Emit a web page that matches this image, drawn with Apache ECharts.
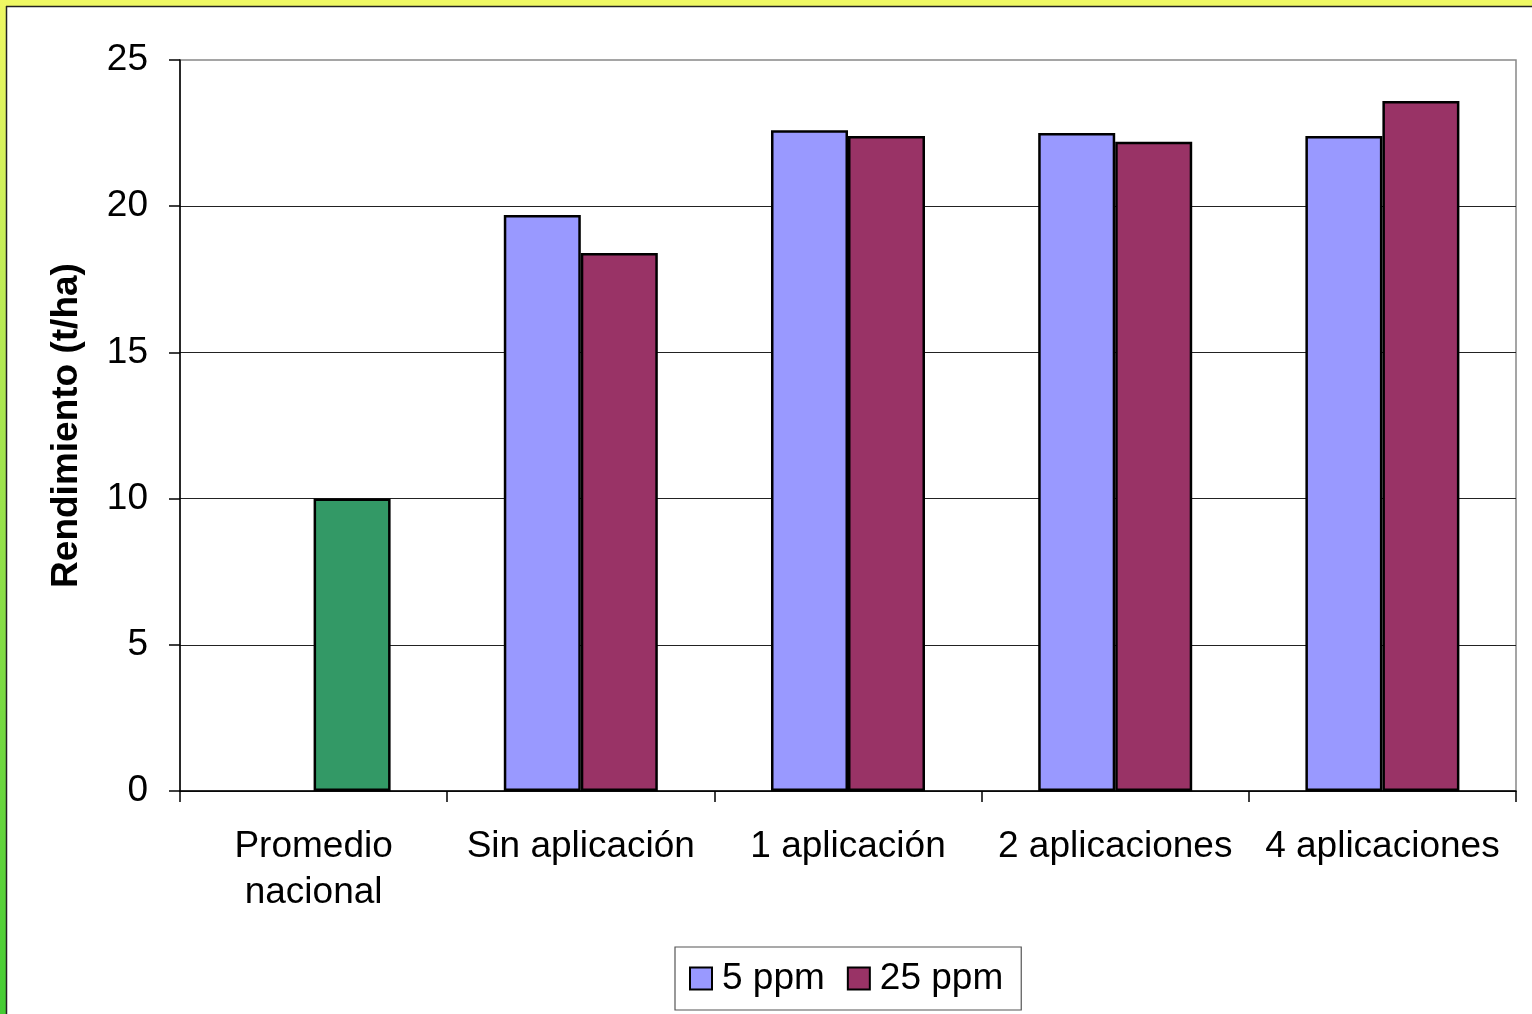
<!DOCTYPE html>
<html>
<head>
<meta charset="utf-8">
<title>Rendimiento (t/ha)</title>
<script src="https://cdn.jsdelivr.net/npm/echarts@6/dist/echarts.min.js"></script>
<style>
  html, body { margin: 0; padding: 0; background: #fff; }
  #chart { width: 1532px; height: 1014px; }
</style>
</head>
<body>
<div id="chart"></div>
<script>
// Categories and yields (t/ha)
const categories = ['Promedio\nnacional', 'Sin aplicación', '1 aplicación', '2 aplicaciones', '4 aplicaciones'];
const ppm5 = ['-', 19.7, 22.6, 22.5, 22.4];
const ppm25 = [10.0, 18.4, 22.4, 22.2, 23.6];
const yTicks = [0, 5, 10, 15, 20, 25];

const FONT = "'Liberation Sans', Arial, sans-serif";
const BLUE = '#9999FF';
const WINE = '#993366';
const GREEN = '#339966';

// The national average is drawn in green in the second slot of its category
const ppm25Data = ppm25.map((v, i) => i === 0 ? { value: v, itemStyle: { color: GREEN } } : v);

const chart = echarts.init(document.getElementById('chart'), null, { renderer: 'canvas' });

chart.setOption({
  backgroundColor: '#ffffff',
  animation: false,
  textStyle: { fontFamily: FONT },
  graphic: [
    // slide frame: yellow top band, yellow-to-green left band, dark inner edge
    { type: 'rect', z: 0, shape: { x: 0, y: 0, width: 1532, height: 6 }, style: { fill: '#EFF863' } },
    { type: 'rect', z: 0, shape: { x: 0, y: 0, width: 6, height: 1014 },
      style: { fill: new echarts.graphic.LinearGradient(0, 0, 0, 1, [
        { offset: 0, color: '#EFF863' },
        { offset: 1, color: '#44CC33' }
      ]) } },
    { type: 'line', z: 1, shape: { x1: 6, y1: 6.5, x2: 1532, y2: 6.5 }, style: { stroke: '#222', lineWidth: 1.5 } },
    { type: 'line', z: 1, shape: { x1: 6.5, y1: 6, x2: 6.5, y2: 1014 }, style: { stroke: '#222', lineWidth: 1.5 } }
  ],
  grid: {
    left: 180, top: 60, width: 1336, height: 731,
    show: true, borderColor: '#888', borderWidth: 1.5, backgroundColor: 'transparent'
  },
  legend: {
    left: 675, top: 947,
    padding: [13, 18, 13, 14],
    itemWidth: 22, itemHeight: 22, itemGap: 22,
    icon: 'rect',
    borderColor: '#555', borderWidth: 1.2,
    textStyle: { fontFamily: FONT, fontSize: 37, color: '#000', padding: [0, 0, 0, 5] },
    data: ['5 ppm', '25 ppm']
  },
  xAxis: {
    type: 'category',
    data: categories,
    axisLine: { show: true, lineStyle: { color: '#000', width: 1.5 } },
    axisTick: { show: true, length: 11, interval: 0, lineStyle: { color: '#000', width: 1.5 } },
    axisLabel: { interval: 0, fontFamily: FONT, fontSize: 37, color: '#000', lineHeight: 46, margin: 33 },
    splitLine: { show: false }
  },
  yAxis: {
    type: 'value',
    min: yTicks[0], max: yTicks[yTicks.length - 1], interval: 5,
    name: 'Rendimiento (t/ha)',
    nameLocation: 'middle',
    nameRotate: 90,
    nameGap: 95,
    nameTextStyle: { fontFamily: FONT, fontSize: 37, fontWeight: 'bold', color: '#000' },
    axisLine: { show: true, lineStyle: { color: '#000', width: 1.5 } },
    axisTick: { show: true, length: 11, lineStyle: { color: '#000', width: 1.5 } },
    axisLabel: { fontFamily: FONT, fontSize: 37, color: '#000', margin: 32 },
    splitLine: { show: true, showMaxLine: false, lineStyle: { color: '#222', width: 1 } }
  },
  series: [
    {
      name: '5 ppm', type: 'bar', data: ppm5,
      barWidth: 77, barGap: '0%',
      itemStyle: { color: BLUE, borderColor: '#000', borderWidth: 2.5 }
    },
    {
      name: '25 ppm', type: 'bar', data: ppm25Data,
      barWidth: 77, barGap: '0%',
      itemStyle: { color: WINE, borderColor: '#000', borderWidth: 2.5 }
    }
  ]
});
</script>
</body>
</html>
